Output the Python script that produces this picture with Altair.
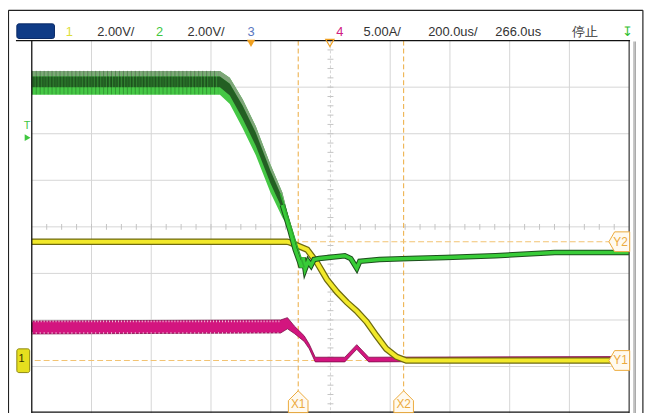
import altair as alt
import pandas as pd

# ---------------- data (x: time in us, 200 us/div, trigger at 0; y: screen divisions) -------------
X_DOMAIN = [-734, 1266]
Y_DOMAIN = [-4, 4]

# Channel 2 (green) thick noisy band: centre and half-width
ch2_band_t = [-734, -104, -71, -28, 16, 65, 105, 132]
ch2_band_y = [3.09, 3.09, 2.92, 2.43, 1.85, 1.04, 0.47, -0.02]
ch2_band_hw = [0.255, 0.255, 0.28, 0.31, 0.31, 0.3, 0.27, 0.06]

# flat part of channel 2 (noise hatch)
ch2_flat_t = [-734, -110]
ch2_flat_y = [3.10, 3.10]

# Channel 2 after the drop
ch2_tail_t = [105, 132, 148, 162, 168, 175, 181, 191, 201, 211, 228, 314, 334, 354, 364, 430, 530, 652, 818, 1017, 1266]
ch2_tail_y = [0.47, -0.11, -0.49, -0.74, -0.87, -0.66, -0.91, -0.74, -0.83, -0.70, -0.68, -0.62, -0.68, -0.89, -0.74, -0.70, -0.68, -0.66, -0.62, -0.55, -0.55]
ch2_spike_t = [98, 142, 178]
ch2_spike_y = [0.72, -0.17, -0.87]

# Channel 1 (yellow)
ch1_t = [-734, 122, 132, 155, 188, 221, 254, 288, 321, 354, 387, 420, 453, 487, 520, 1266]
ch1_y = [-0.32, -0.32, -0.34, -0.40, -0.49, -0.77, -1.13, -1.40, -1.62, -1.81, -2.04, -2.34, -2.62, -2.79, -2.87, -2.87]

# Channel 4 (magenta) band: centre and half-width
ch4_t = [-734, 99, 122, 145, 178, 195, 215, 314, 354, 394, 1266]
ch4_y = [-2.16, -2.14, -2.07, -2.21, -2.40, -2.57, -2.85, -2.85, -2.58, -2.85, -2.83]
ch4_hw = [0.14, 0.14, 0.12, 0.08, 0.06, 0.05, 0.05, 0.05, 0.05, 0.05, 0.045]
# flat noisy part of channel 4 (speckle edges)
ch4_flat_t = [-734, 95]
ch4_flat_top = [-2.03, -2.03]
ch4_flat_bot = [-2.28, -2.28]

# graticule
grid_t = [-534, -334, -134, 66, 466, 666, 866, 1066]
grid_y = [-3, -2, -1, 1, 2, 3]
center_t = 266
minor_t = [t for t in range(-684, 1266, 50)]
minor_y = [i / 5 for i in range(-19, 20)]

# cursors
cursor_x = [158, 511]
cursor_x_labels = ["X1", "X2"]
cursor_y = [-0.32, -2.87]
cursor_y_labels = ["Y2", "Y1"]

# header
hdr_y = 4.19
hdr_left_t = [-515, -213, 377, 593, 818, 1074]
hdr_left_text = ["2.00V/", "2.00V/", "5.00A/", "200.0us/", "266.0us", "停止"]
hdr_ch_t = [-608, -306, 0, 297, 1262]
hdr_ch_text = ["1", "2", "3", "4", "↧"]
hdr_ch_color = ["#dede3a", "#3fc73f", "#5a78c0", "#d0207f", "#2fbf2f"]

# ---------------- scales / helpers ----------------
xs = alt.Scale(domain=X_DOMAIN, nice=False, zero=False)
ys = alt.Scale(domain=Y_DOMAIN, nice=False, zero=False)


def X(f="t"):
    return alt.X(f"{f}:Q", scale=xs, axis=None)


def Y(f="y"):
    return alt.Y(f"{f}:Q", scale=ys, axis=None)


FONT = "Liberation Sans"
ORANGE = "#ecaa3c"

band = pd.DataFrame({"t": ch2_band_t, "c": ch2_band_y, "hw": ch2_band_hw})
band["lo"] = band.c - band.hw
band["hi"] = band.c + band.hw
band["dlo"] = band.c - 0.35 * band.hw
band["dhi"] = band.c + 0.55 * band.hw

flat = pd.DataFrame({"t": ch2_flat_t, "y": ch2_flat_y})
tail = pd.DataFrame({"t": ch2_tail_t, "y": ch2_tail_y})
spike = pd.DataFrame({"t": ch2_spike_t, "y": ch2_spike_y})
ch1 = pd.DataFrame({"t": ch1_t, "y": ch1_y})
ch4 = pd.DataFrame({"t": ch4_t, "c": ch4_y, "hw": ch4_hw})
ch4["lo"] = ch4.c - ch4.hw
ch4["hi"] = ch4.c + ch4.hw
ch4_top = pd.DataFrame({"t": ch4_flat_t, "y": ch4_flat_top})
ch4_bot = pd.DataFrame({"t": ch4_flat_t, "y": ch4_flat_bot})

layers = []

# grid
layers.append(alt.Chart(pd.DataFrame({"t": grid_t})).mark_rule(color="#d6d6d6", strokeWidth=1).encode(x=X()))
layers.append(alt.Chart(pd.DataFrame({"y": grid_y})).mark_rule(color="#d6d6d6", strokeWidth=1).encode(y=Y()))
layers.append(alt.Chart(pd.DataFrame({"t": [center_t]})).mark_rule(color="#d6d6d6", strokeWidth=1, strokeDash=[3, 2]).encode(x=X()))
layers.append(alt.Chart(pd.DataFrame({"y": [0]})).mark_rule(color="#d6d6d6", strokeWidth=1).encode(y=Y()))
layers.append(alt.Chart(pd.DataFrame({"t": minor_t, "y": [0] * len(minor_t)})).mark_tick(
    orient="vertical", size=6, thickness=1, color="#c4c4c4", opacity=1).encode(x=X(), y=Y()))
layers.append(alt.Chart(pd.DataFrame({"y": minor_y, "t": [center_t] * len(minor_y)})).mark_tick(
    orient="horizontal", size=6, thickness=1, color="#c4c4c4", opacity=1).encode(x=X(), y=Y()))

# cursors
layers.append(alt.Chart(pd.DataFrame({"t": cursor_x})).mark_rule(color=ORANGE, strokeWidth=1, strokeDash=[5, 3]).encode(x=X()))
layers.append(alt.Chart(pd.DataFrame({"y": cursor_y})).mark_rule(color="#f2c270", strokeWidth=1, strokeDash=[6, 3]).encode(y=Y()))

# channel 4 magenta
layers.append(alt.Chart(ch4).mark_area(color="#d3157f", stroke="#7d0e4a", strokeWidth=0.8).encode(x=X(), y=Y("lo"), y2="hi"))
layers.append(alt.Chart(ch4_top).mark_line(color="#ffffff", strokeWidth=2, strokeDash=[1, 2], opacity=0.75).encode(x=X(), y=Y()))
layers.append(alt.Chart(ch4_bot).mark_line(color="#ffffff", strokeWidth=2, strokeDash=[1, 3], opacity=0.6).encode(x=X(), y=Y()))

# channel 1 yellow
layers.append(alt.Chart(ch1).mark_line(color="#6e6a10", strokeWidth=6.5).encode(x=X(), y=Y()))
layers.append(alt.Chart(ch1).mark_line(color="#f2e92a", strokeWidth=4).encode(x=X(), y=Y()))

# channel 2 green
layers.append(alt.Chart(band).mark_area(color="#45c845").encode(x=X(), y=Y("lo"), y2="hi"))
layers.append(alt.Chart(band).mark_area(color="#7fa57a").encode(x=X(), y=Y("dhi"), y2="hi"))
layers.append(alt.Chart(band).mark_area(color="#235f23").encode(x=X(), y=Y("dlo"), y2="dhi"))
layers.append(alt.Chart(flat).mark_line(color="#4fd04f", strokeWidth=20, strokeDash=[1, 2], opacity=0.35).encode(x=X(), y=Y()))
layers.append(alt.Chart(flat).mark_line(color="#0c300c", strokeWidth=24, strokeDash=[1, 3], opacity=0.3).encode(x=X(), y=Y()))
layers.append(alt.Chart(tail).mark_line(color="#1d4f1d", strokeWidth=5.5).encode(x=X(), y=Y()))
layers.append(alt.Chart(tail).mark_line(color="#38cc38", strokeWidth=3.5).encode(x=X(), y=Y()))
layers.append(alt.Chart(spike).mark_line(color="#2fae2f", strokeWidth=1.5).encode(x=X(), y=Y()))

# plot frame
frame_v = pd.DataFrame({"t": [-734, 1266], "y": [4, 4], "y2": [-4, -4], "c": ["#111111", "#444444"]})
layers.append(alt.Chart(frame_v).mark_rule(strokeWidth=1.3).encode(x=X(), y=Y(), y2="y2", color=alt.Color("c:N", scale=None)))
frame_h = pd.DataFrame({"t": [-787, -734], "t2": [1269, 1266], "y": [4, -3.98]})
layers.append(alt.Chart(frame_h).mark_rule(color="#111111", strokeWidth=1.3).encode(x=X(), x2="t2", y=Y()))
# outer border and right scroll rails
outer_v = pd.DataFrame({"t": [-812, 1281, 1286, 1312], "y": [4.65, 3.98, 3.98, 4.65], "y2": [-4, -4, -4, -4],
                        "c": ["#222222", "#c8c8c8", "#8a8a8a", "#222222"]})
layers.append(alt.Chart(outer_v).mark_rule(strokeWidth=1.2).encode(x=X(), y=Y(), y2="y2", color=alt.Color("c:N", scale=None)))
layers.append(alt.Chart(pd.DataFrame({"t": [-812], "t2": [1312], "y": [4.65]})).mark_rule(color="#222222", strokeWidth=1.2).encode(x=X(), x2="t2", y=Y()))

# cursor labels
xl = pd.DataFrame({"t": cursor_x, "y": [-3.755] * 2, "ty": [-3.80] * 2, "lab": cursor_x_labels})
layers.append(alt.Chart(xl).mark_point(shape="M-0.9,1 L-0.9,-0.1 L0,-1 L0.9,-0.1 L0.9,1 Z", size=484, filled=True,
                                       fill="#fffaf0", stroke=ORANGE, strokeWidth=1, opacity=1).encode(x=X(), y=Y()))
layers.append(alt.Chart(xl).mark_text(font=FONT, fontSize=12, color=ORANGE, baseline="middle").encode(x=X(), y=Y("ty"), text="lab:N"))
yl = pd.DataFrame({"t": [1233] * 2, "tt": [1237] * 2, "y": cursor_y, "lab": cursor_y_labels})
layers.append(alt.Chart(yl).mark_point(shape="M-1,0 L-0.45,-0.95 L1,-0.95 L1,0.95 L-0.45,0.95 Z", size=441, filled=True,
                                       fill="#fffaf0", stroke=ORANGE, strokeWidth=1, opacity=1).encode(x=X(), y=Y()))
layers.append(alt.Chart(yl).mark_text(font=FONT, fontSize=12, color=ORANGE, baseline="middle").encode(x=X("tt"), y=Y(), text="lab:N"))

# trigger position markers
layers.append(alt.Chart(pd.DataFrame({"t": [0], "y": [3.94]})).mark_point(shape="triangle-down", size=70, filled=True,
                                                                          color="#f0a020", opacity=1).encode(x=X(), y=Y()))
layers.append(alt.Chart(pd.DataFrame({"t": [264], "y": [3.95]})).mark_point(shape="triangle-down", size=70, filled=False,
                                                                            color="#f0a020", strokeWidth=1.2, opacity=1).encode(x=X(), y=Y()))
# trigger level marker "T"
layers.append(alt.Chart(pd.DataFrame({"t": [-750], "y": [2.17], "s": ["T"]})).mark_text(font=FONT, fontSize=11, color="#3fc73f").encode(x=X(), y=Y(), text="s:N"))
layers.append(alt.Chart(pd.DataFrame({"t": [-748], "y": [1.915]})).mark_point(shape="triangle-right", size=45, filled=True,
                                                                             color="#3fc73f", opacity=1).encode(x=X(), y=Y()))
# ground marker channel 1
layers.append(alt.Chart(pd.DataFrame({"t": [-784], "t2": [-741], "y": [-2.62], "y2": [-3.13]})).mark_rect(
    fill="#e6df1e", stroke="#8d8812", strokeWidth=1, cornerRadius=2).encode(x=X(), x2="t2", y=Y(), y2="y2"))
layers.append(alt.Chart(pd.DataFrame({"t": [-768], "y": [-2.84], "s": ["1"]})).mark_text(font=FONT, fontSize=11, color="#333300").encode(x=X(), y=Y(), text="s:N"))

# header
layers.append(alt.Chart(pd.DataFrame({"t": [-784], "t2": [-658], "y": [4.36], "y2": [4.045]})).mark_rect(
    fill="#0f3b86", stroke="#0a2a66", strokeWidth=1, cornerRadius=2).encode(x=X(), x2="t2", y=Y(), y2="y2"))
hl = pd.DataFrame({"t": hdr_left_t, "y": [hdr_y] * len(hdr_left_t), "s": hdr_left_text})
layers.append(alt.Chart(hl).mark_text(font=FONT, fontSize=13, color="#333333", align="left", baseline="middle").encode(x=X(), y=Y(), text="s:N"))
hc = pd.DataFrame({"t": hdr_ch_t, "y": [hdr_y] * len(hdr_ch_t), "s": hdr_ch_text, "c": hdr_ch_color})
layers.append(alt.Chart(hc).mark_text(font=FONT, fontSize=13, align="center", baseline="middle").encode(
    x=X(), y=Y(), text="s:N", color=alt.Color("c:N", scale=None)))

chart = alt.layer(*layers).properties(
    width=603, height=376,
    padding={"left": 24, "top": 31, "right": 16, "bottom": 0},
    autosize=alt.AutoSizeParams(type="none"),
    background="white",
).configure_view(stroke=None)

chart.save("out.html", embed_options={"renderer": "svg", "actions": False})
